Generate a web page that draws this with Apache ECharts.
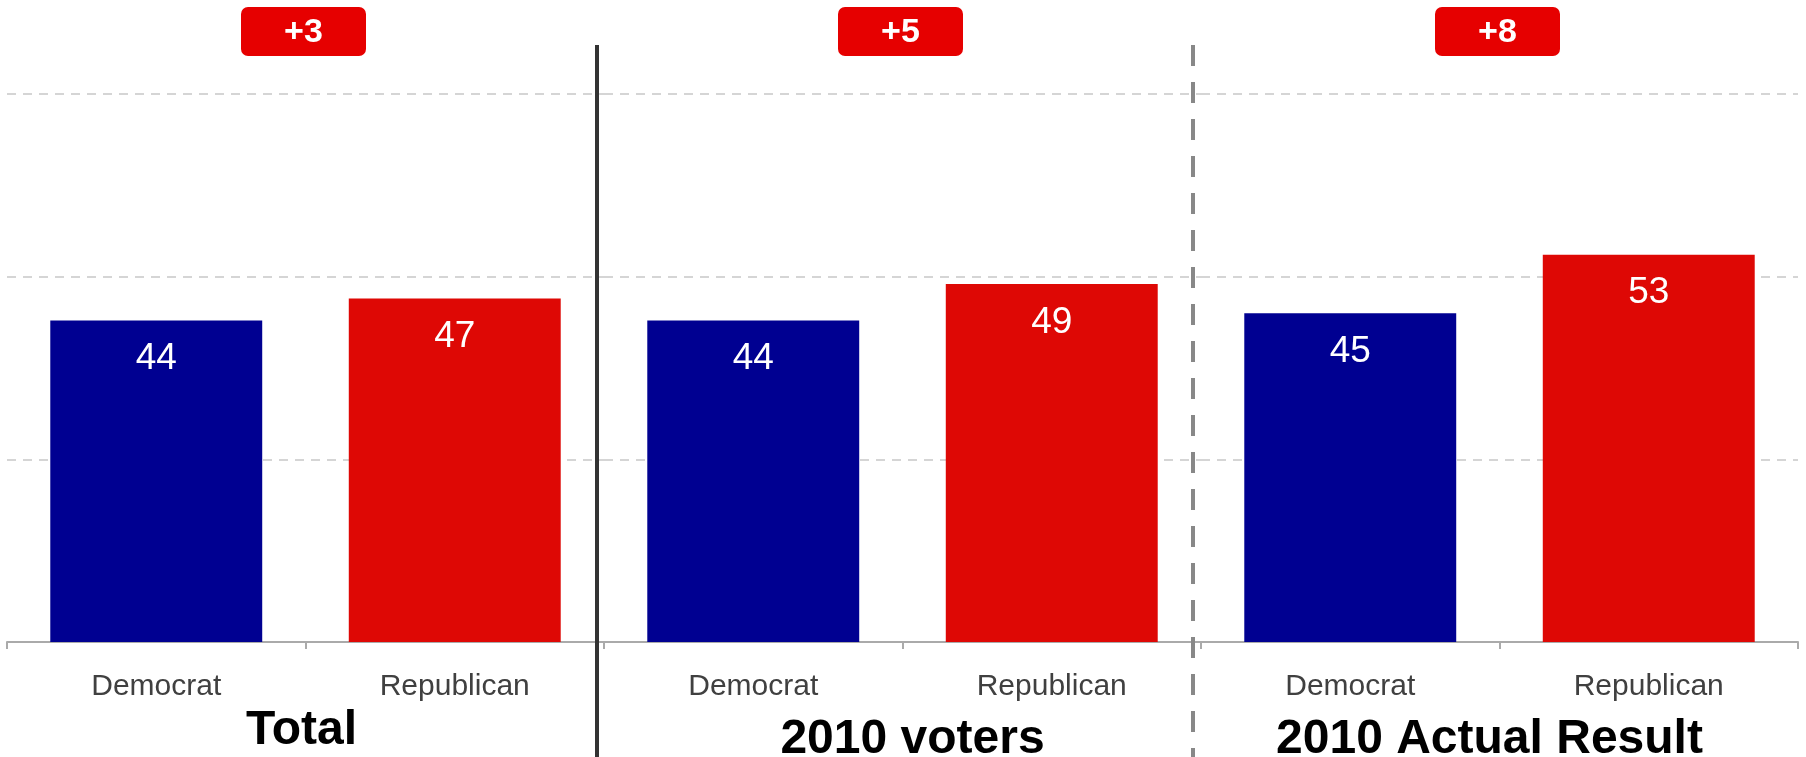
<!DOCTYPE html>
<html>
<head>
<meta charset="utf-8">
<script src="https://cdn.jsdelivr.net/npm/echarts@6/dist/echarts.min.js"></script>
<style>
html,body{margin:0;padding:0;background:#fff;}
#chart{width:1806px;height:757px;}
</style>
</head>
<body>
<div id="chart"></div>
<script>
// ---- data ----
const categories = ['Democrat', 'Republican'];
const panelTitles = ['Total', '2010 voters', '2010 Actual Result'];
const demValues = [44, 44, 45];
const repValues = [47, 49, 53];
const diffLabels = ['+3', '+5', '+8'];
const yMin = 0, yMax = 75, yInterval = 25;

// ---- layout / style ----
const FONT = '"Liberation Sans", Arial, sans-serif';
const BLUE = '#000091';
const RED = '#de0805';
const panelLeft0 = 7, panelWidth = 597;
const gridTop = 94, gridBottom = 115;
const titleY = [731, 740, 740];
const titleDx = [-4, 10, -10];

const chart = echarts.init(document.getElementById('chart'), null, {renderer: 'canvas'});

const grids = [], xAxes = [], yAxes = [], series = [];
panelTitles.forEach((t, i) => {
  grids.push({left: panelLeft0 + i * panelWidth, width: panelWidth, top: gridTop, bottom: gridBottom, containLabel: false});
  xAxes.push({
    type: 'category', gridIndex: i, data: categories,
    axisLine: {lineStyle: {color: '#aaaaaa', width: 2}},
    axisTick: {show: true, length: 7, lineStyle: {color: '#aaaaaa', width: 2}},
    axisLabel: {color: '#404040', fontSize: 30, fontFamily: FONT, margin: 30}
  });
  yAxes.push({
    type: 'value', gridIndex: i, min: yMin, max: yMax, interval: yInterval,
    axisLine: {show: false}, axisTick: {show: false}, axisLabel: {show: false},
    splitLine: {show: true, lineStyle: {color: '#c8c8c8', width: 1.5, type: [9, 7]}}
  });
  series.push({
    type: 'bar', xAxisIndex: i, yAxisIndex: i, barWidth: '71%',
    data: [
      {value: demValues[i], itemStyle: {color: BLUE}},
      {value: repValues[i], itemStyle: {color: RED}}
    ],
    label: {show: true, position: 'insideTop', distance: 20, color: '#ffffff', fontSize: 37, fontFamily: FONT},
    silent: true
  });
});

const graphics = [];
panelTitles.forEach((t, i) => {
  const cx = panelLeft0 + i * panelWidth + panelWidth / 2;
  graphics.push({
    type: 'text', x: cx + titleDx[i], y: titleY[i], z: 10,
    style: {text: t, fill: '#000', font: 'bold 48px ' + FONT, textAlign: 'center', textVerticalAlign: 'middle'}
  });
  graphics.push({
    type: 'group', x: cx - 62.5 - 2, y: 7, z: 10,
    children: [
      {type: 'rect', shape: {x: 0, y: 0, width: 125, height: 49, r: 7}, style: {fill: '#e60000'}},
      {type: 'text', x: 62.5, y: 26, style: {text: diffLabels[i], fill: '#fff', font: 'bold 34px ' + FONT, textAlign: 'center', textVerticalAlign: 'middle'}}
    ]
  });
});
// dividers
graphics.push({type: 'line', z: 20, shape: {x1: 597, y1: 45, x2: 597, y2: 757}, style: {stroke: '#333333', lineWidth: 4}});
graphics.push({type: 'line', z: 20, shape: {x1: 1193, y1: 45, x2: 1193, y2: 757}, style: {stroke: '#888888', lineWidth: 4, lineDash: [21, 16]}});

chart.setOption({
  animation: false,
  backgroundColor: '#ffffff',
  grid: grids, xAxis: xAxes, yAxis: yAxes, series: series,
  graphic: graphics
});
</script>
</body>
</html>
